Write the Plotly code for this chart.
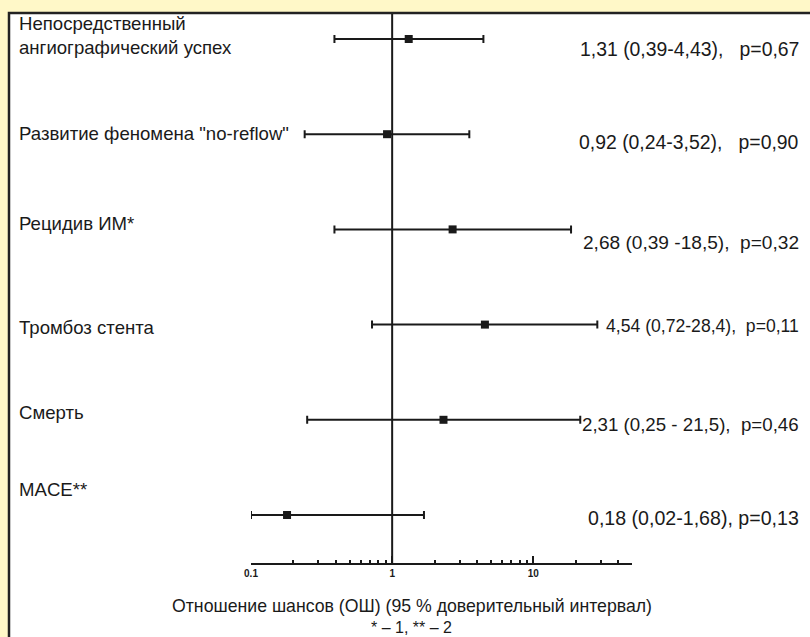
import plotly.graph_objects as go

# ---- data ----
outcomes = ["Непосредственный<br>ангиографический успех",
            "Развитие феномена \"no-reflow\"",
            "Рецидив ИМ*",
            "Тромбоз стента",
            "Смерть",
            "MACE**"]
odds_ratio = [1.31, 0.92, 2.68, 4.54, 2.31, 0.18]
ci_low = [0.39, 0.24, 0.39, 0.72, 0.25, 0.02]
ci_high = [4.43, 3.52, 18.5, 28.4, 21.5, 1.68]
result_text = ["1,31 (0,39-4,43),   p=0,67",
               "0,92 (0,24-3,52),   p=0,90",
               "2,68 (0,39 -18,5),  p=0,32",
               "4,54 (0,72-28,4),  p=0,11",
               "2,31 (0,25 - 21,5),  p=0,46",
               "0,18 (0,02-1,68), p=0,13"]
tick_vals = [0.1, 1, 10]
tick_text = ["0.1", "1", "10"]
minor_vals = [0.2, 0.3, 0.4, 0.5, 0.6, 0.7, 0.8, 0.9,
              2, 3, 4, 5, 6, 7, 8, 9, 20, 30, 40, 50]
x_min, x_max = 0.1, 50

# ---- layout geometry (pixels) ----
W, H = 810, 637
L, R = 251, 632          # plot area left/right
T, B = 14, 563           # plot area top/bottom
pw, ph = R - L, B - T

def px(X):
    return (X - L) / pw

def py(Y):
    return (B - Y) / ph

n = len(outcomes)
ypos = list(range(n, 0, -1))
row_px = 95.2
y_top = n + (39 - T) / row_px
y_bot = 1 - (B - 515) / row_px

plot_low = [max(lo, x_min) for lo in ci_low]

font_family = "Liberation Sans, Arial, sans-serif"
ink = "#1a1a1a"

fig = go.Figure()
fig.add_trace(go.Scatter(
    x=odds_ratio, y=ypos, mode="markers",
    marker=dict(symbol="square", size=8, color=ink),
    error_x=dict(type="data", symmetric=False,
                 array=[h - o for h, o in zip(ci_high, odds_ratio)],
                 arrayminus=[o - l for o, l in zip(odds_ratio, plot_low)],
                 color=ink, thickness=2, width=4),
    showlegend=False, hoverinfo="skip", cliponaxis=False))

shapes = [
    dict(type="rect", xref="paper", yref="paper",
         x0=px(9), x1=px(W + 5), y0=py(13), y1=py(H + 5),
         fillcolor="white", line=dict(color="#222", width=2.5), layer="below"),
    dict(type="line", xref="x", yref="paper", x0=1, x1=1, y0=0, y1=1,
         line=dict(color=ink, width=2), layer="below"),
]

label_dy = [4, 1, 6, -3, 7, 26]          # pixel shift upward for left labels
result_dy = [-10, -8, -13, -1, -5, -3]   # pixel shift for right texts
result_size = [19.4, 19.4, 19.1, 17.6, 18.7, 19.6]

annotations = []
for i in range(n):
    annotations.append(dict(
        text=outcomes[i], xref="paper", yref="y", x=px(17), y=ypos[i],
        yshift=label_dy[i], xanchor="left", yanchor="middle", align="left",
        showarrow=False, font=dict(family=font_family, size=18.6, color=ink)))
    annotations.append(dict(
        text=result_text[i].replace(" ", "\u00a0"), xref="paper", yref="y",
        x=px(801), y=ypos[i],
        yshift=result_dy[i], xanchor="right", yanchor="middle",
        showarrow=False, font=dict(family=font_family, size=result_size[i], color=ink)))

annotations.append(dict(
    text="Отношение шансов (ОШ) (95 % доверительный интервал)",
    xref="paper", yref="paper", x=px(412), y=py(606),
    xanchor="center", yanchor="middle", showarrow=False,
    font=dict(family=font_family, size=17.7, color=ink)))
annotations.append(dict(
    text="* – 1, ** – 2", xref="paper", yref="paper", x=px(411), y=py(627),
    xanchor="center", yanchor="middle", showarrow=False,
    font=dict(family=font_family, size=16, color=ink)))

fig.update_layout(
    width=W, height=H,
    margin=dict(l=L, r=W - R, t=T, b=H - B, pad=0),
    paper_bgcolor="#FFF8C8", plot_bgcolor="rgba(0,0,0,0)",
    shapes=shapes, annotations=annotations,
    xaxis=dict(type="log", range=[-1, 1.69897], showgrid=False, zeroline=False,
               showline=True, linecolor=ink, linewidth=2,
               tickmode="array", tickvals=tick_vals, ticktext=tick_text,
               ticks="inside", ticklen=7, tickwidth=2, tickcolor=ink,
               tickfont=dict(family=font_family, size=10, color=ink, weight="bold"),
               minor=dict(tickmode="array", tickvals=minor_vals, ticks="inside",
                          ticklen=3, tickwidth=2, tickcolor=ink, showgrid=False)),
    yaxis=dict(range=[y_bot, y_top], visible=False, showgrid=False, zeroline=False),
)

fig.write_html("out.html", config={"displayModeBar": False},
               post_script="document.body.style.margin='0px';document.body.style.padding='0px';")
